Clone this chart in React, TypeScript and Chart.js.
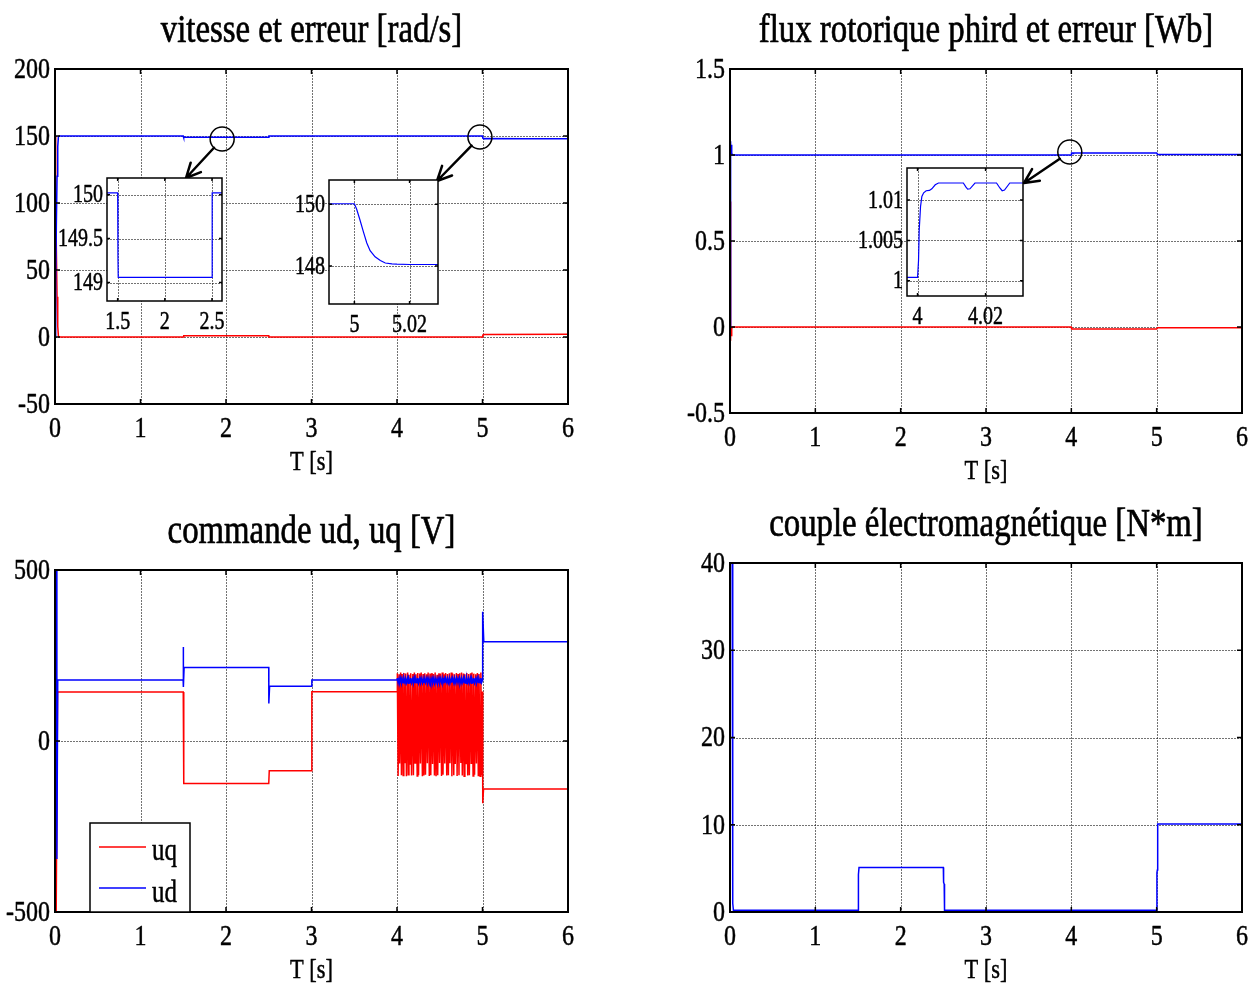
import React, { useEffect, useRef } from 'react';
import { Chart, registerables } from 'chart.js';

Chart.register(...registerables);

// ---------------- data ----------------
const TIME_TICKS = [0, 1, 2, 3, 4, 5, 6];
const TITLES = [
  'vitesse et erreur [rad/s]',
  'flux rotorique phird et erreur [Wb]',
  'commande ud, uq [V]',
  'couple électromagnétique [N*m]',
];
const X_LABEL = 'T [s]';
const LEGEND_LABELS = ['uq', 'ud'];

// panel 1 : speed and speed error
const speedYTicks = [-50, 0, 50, 100, 150, 200];
const speedT = [0, 0.008, 0.016, 0.024, 0.032, 0.04, 0.05, 1.5, 1.503, 1.506, 2.5, 2.502, 5.0, 5.0008, 5.002, 5.0033, 5.0045, 5.0057, 5.0075, 5.0094, 5.0112, 5.0136, 5.0154, 5.02, 5.5, 6];
const speedV = [0, 40, 85, 120, 142, 149.5, 150.02, 150.02, 149.3, 149.06, 149.06, 150.02, 150.02, 149.85, 149.5, 149.1, 148.75, 148.5, 148.3, 148.18, 148.1, 148.07, 148.06, 148.05, 148.04, 148.04];
const speedErrT = [0, 0.008, 0.016, 0.024, 0.032, 0.04, 0.05, 1.5, 1.506, 2.5, 2.502, 5.0, 5.003, 5.006, 5.01, 5.02, 6];
const speedErrV = [150, 110, 65, 30, 8, 0.5, 0, 0, 0.94, 0.94, 0, 0, 0.9, 1.5, 1.85, 1.95, 1.96];
const inset1XTicks = [1.5, 2, 2.5];
const inset1YTicks = [149, 149.5, 150];
const inset2XTicks = [5, 5.02];
const inset2YTicks = [148, 150];

// panel 2 : rotor flux and flux error
const fluxYTicks = [-0.5, 0, 0.5, 1, 1.5];
const fluxT = [0, 0.003, 0.007, 0.011, 0.015, 0.02, 0.03, 3.9969, 4.0, 4.00029, 4.00049, 4.00088, 4.00127, 4.0018, 4.00254, 4.0035, 4.0042, 4.0052, 4.00615, 4.01346, 4.01424, 4.01473, 4.01541, 4.01688, 4.02322, 4.0242, 4.02488, 4.02556, 4.02712, 4.05, 5.0, 5.01, 6];
const fluxV = [0, 0.55, 1.08, 1.02, 1.06, 1.01, 1.0004, 1.0004, 1.0004, 1.0025, 1.0063, 1.0092, 1.01046, 1.0109, 1.01116, 1.0112, 1.0114, 1.0119, 1.01212, 1.01212, 1.0116, 1.01137, 1.0114, 1.01212, 1.01212, 1.0115, 1.01116, 1.01125, 1.01212, 1.01212, 1.01212, 1.003, 1.003];
const fluxErrT = [0, 0.003, 0.007, 0.011, 0.015, 0.02, 0.03, 4.0, 4.003, 5.0, 5.01, 6];
const fluxErrV = [0.73, 0.3, -0.08, -0.02, -0.05, -0.01, 0, 0, -0.012, -0.012, -0.004, -0.004];
const inset3XTicks = [4, 4.02];
const inset3YTicks = [1, 1.005, 1.01];

// panel 3 : voltage commands
const voltYTicks = [-500, 0, 500];
const uqPreT = [0, 0.006, 0.014, 0.022, 0.03, 1.5, 1.506, 2.5, 2.506, 3.0, 3.004, 4.0];
const uqPreV = [500, 420, -500, -500, 143, 143, -124, -124, -87, -87, 144, 144];
const udPreT = [0, 0.012, 0.022, 0.032, 1.499, 1.5, 1.503, 1.51, 2.5, 2.501, 2.51, 3.0, 3.004, 4.0];
const udPreV = [0, 500, -345, 178, 178, 275, 158, 215, 215, 110, 160, 160, 178, 178];
const oscT = [
  4.004, 4.013, 4.024, 4.031, 4.043, 4.052, 4.060, 4.072, 4.080, 4.093,
  4.101, 4.110, 4.124, 4.131, 4.140, 4.153, 4.161, 4.170, 4.185, 4.192,
  4.203, 4.211, 4.222, 4.236, 4.243, 4.252, 4.266, 4.274, 4.283, 4.297,
  4.305, 4.314, 4.325, 4.333, 4.347, 4.355, 4.364, 4.378, 4.386, 4.395,
  4.409, 4.416, 4.425, 4.438, 4.446, 4.457, 4.468, 4.476, 4.490, 4.498,
  4.507, 4.521, 4.529, 4.538, 4.551, 4.559, 4.568, 4.582, 4.590, 4.601,
  4.612, 4.620, 4.634, 4.642, 4.651, 4.664, 4.672, 4.681, 4.695, 4.703,
  4.714, 4.725, 4.733, 4.747, 4.755, 4.764, 4.777, 4.785, 4.794, 4.808,
  4.816, 4.827, 4.838, 4.846, 4.860, 4.868, 4.877, 4.890, 4.898, 4.907,
  4.921, 4.929, 4.940, 4.951, 4.959, 4.973, 4.981, 4.990,
];
const uqOscV = [
  198, -102, 195, -66, 200, -100, 196, -101, 199, -65,
  197, -103, 200, -99, 194, -67, 198, -101, 196, -100,
  200, -64, 195, -102, 199, -100, 197, -66, 200, -103,
  196, -101, 198, -99, 195, -65, 200, -102, 197, -100,
  199, -67, 196, -101, 200, -103, 194, -100, 198, -64,
  197, -102, 200, -99, 195, -66, 199, -101, 196, -100,
  198, -65, 200, -103, 197, -100, 195, -67, 199, -102,
  196, -100, 198, -64, 200, -101, 197, -103, 195, -66,
  199, -101, 196, -100, 198, -65, 200, -102, 197, -99,
  195, -66, 199, -101, 196, -103, 200, -100,
];
const udOscV = [
  184, 170, 183, 171, 184, 169, 182, 170, 184, 171,
  183, 170, 184, 169, 182, 171, 184, 170, 183, 169,
  184, 171, 182, 170, 184, 169, 183, 171, 184, 170,
  182, 169, 184, 171, 183, 170, 184, 169, 182, 171,
  184, 170, 183, 169, 184, 171, 182, 170, 184, 169,
  183, 171, 184, 170, 182, 169, 184, 171, 183, 170,
  184, 169, 182, 171, 184, 170, 183, 169, 184, 171,
  182, 170, 184, 169, 183, 171, 184, 170, 182, 169,
  184, 171, 183, 170, 184, 169, 182, 171, 184, 170,
  183, 169, 184, 171, 182, 170, 184, 171,
];
const uqPostT = [5.0, 5.003, 5.012, 6];
const uqPostV = [145, -182, -140, -140];
const udPostT = [5.0, 5.002, 5.015, 6];
const udPostV = [178, 378, 290, 290];

// panel 4 : electromagnetic torque
const torqueYTicks = [0, 10, 20, 30, 40];
const torqueT = [0, 0.002, 0.026, 0.032, 0.04, 1.5, 1.502, 1.508, 1.512, 2.5, 2.503, 2.51, 2.514, 5.0, 5.003, 5.008, 5.012, 6];
const torqueV = [0, 40, 40, 1, 0.2, 0.2, 4.1, 4.3, 5.1, 5.1, 3.4, 3.2, 0.2, 0.2, 4.5, 4.8, 10.1, 10.1];

// ---------------- styling / layout ----------------
const FONT = '"Liberation Serif", "Times New Roman", Times, serif';
const BLUE = '#0000ff';
const RED = '#ff0000';
const SX = 0.8;

type Area = { l: number; t: number; r: number; b: number };
const INSET1: Area = { l: 107, t: 178, r: 222, b: 301 };
const INSET2: Area = { l: 329, t: 180, r: 438, b: 304 };
const INSET3: Area = { l: 907, t: 168, r: 1023, b: 296 };

const pts = (t: number[], v: number[]) => t.map((x, i) => ({ x, y: v[i] }));

function txt(ctx: CanvasRenderingContext2D, s: string, x: number, y: number, size: number,
  align: CanvasTextAlign, baseline: CanvasTextBaseline = 'alphabetic', sx = SX) {
  ctx.save();
  ctx.font = `${size}px ${FONT}`;
  ctx.fillStyle = '#000';
  ctx.strokeStyle = '#000';
  ctx.lineWidth = size > 35 ? 0.7 : 0.5;
  ctx.lineJoin = 'round';
  ctx.textAlign = align;
  ctx.textBaseline = baseline;
  ctx.translate(x, y);
  ctx.scale(sx, 1);
  ctx.fillText(s, 0, 0);
  ctx.strokeText(s, 0, 0);
  ctx.restore();
}

function arrow(ctx: CanvasRenderingContext2D, cx: number, cy: number, r: number, tx: number, ty: number) {
  const dx = tx - cx, dy = ty - cy;
  const d = Math.hypot(dx, dy);
  const sx = cx + (dx / d) * r, sy = cy + (dy / d) * r;
  ctx.save();
  ctx.strokeStyle = '#000';
  ctx.lineWidth = 1.5;
  ctx.beginPath();
  ctx.arc(cx, cy, r, 0, Math.PI * 2);
  ctx.stroke();
  ctx.lineWidth = 2.5;
  ctx.lineCap = 'round';
  ctx.beginPath();
  ctx.moveTo(sx, sy);
  ctx.lineTo(tx, ty);
  const ang = Math.atan2(ty - sy, tx - sx);
  for (const s of [-0.45, 0.45]) {
    ctx.moveTo(tx, ty);
    ctx.lineTo(tx - 16 * Math.cos(ang + s), ty - 16 * Math.sin(ang + s));
  }
  ctx.stroke();
  ctx.restore();
}

type ZoomMark = { t: number; v: number; r: number; tip: [number, number] };

type Spec = {
  key: string;
  left: number; top: number; width: number; height: number;
  area: Area;
  x: [number, number]; y: [number, number];
  xTicks: number[]; yTicks: number[];
  series: { t: number[]; v: number[]; color: string }[];
  title?: string;
  inset?: boolean;
  marks?: ZoomMark[];
  legend?: boolean;
};

function axesPlugin(spec: Spec) {
  const tickLen = spec.inset ? 3 : 5;
  const tickSize = spec.inset ? 25 : 30;
  return {
    id: 'matlabAxes',
    beforeDatasetsDraw(chart: any) {
      const { ctx, chartArea: a } = chart;
      const xs = chart.scales.x, ys = chart.scales.y;
      ctx.save();
      if (spec.inset) {
        ctx.fillStyle = '#fff';
        ctx.fillRect(a.left, a.top, a.right - a.left, a.bottom - a.top);
      }
      ctx.strokeStyle = 'rgba(0,0,0,0.55)';
      ctx.lineWidth = 1;
      ctx.setLineDash([2, 1]);
      ctx.beginPath();
      for (const t of spec.xTicks) {
        const px = Math.round(xs.getPixelForValue(t)) + 0.5;
        if (px <= a.left + 2 || px >= a.right - 2) continue;
        ctx.moveTo(px, a.top);
        ctx.lineTo(px, a.bottom);
      }
      for (const v of spec.yTicks) {
        const py = Math.round(ys.getPixelForValue(v)) + 0.5;
        if (py <= a.top + 2 || py >= a.bottom - 2) continue;
        ctx.moveTo(a.left, py);
        ctx.lineTo(a.right, py);
      }
      ctx.stroke();
      ctx.restore();
    },
    afterDatasetsDraw(chart: any) {
      const { ctx, chartArea: a } = chart;
      const xs = chart.scales.x, ys = chart.scales.y;
      ctx.save();
      // inward tick marks
      ctx.strokeStyle = '#000';
      ctx.lineWidth = 1.5;
      ctx.beginPath();
      for (const t of spec.xTicks) {
        const px = xs.getPixelForValue(t);
        ctx.moveTo(px, a.bottom); ctx.lineTo(px, a.bottom - tickLen);
        ctx.moveTo(px, a.top); ctx.lineTo(px, a.top + tickLen);
      }
      for (const v of spec.yTicks) {
        const py = ys.getPixelForValue(v);
        ctx.moveTo(a.left, py); ctx.lineTo(a.left + tickLen, py);
        ctx.moveTo(a.right, py); ctx.lineTo(a.right - tickLen, py);
      }
      ctx.stroke();
      // frame
      ctx.lineWidth = spec.inset ? 1.5 : 2;
      ctx.strokeRect(a.left, a.top, a.right - a.left, a.bottom - a.top);
      ctx.restore();

      // tick labels
      for (const t of spec.xTicks) {
        txt(ctx, String(t), xs.getPixelForValue(t), a.bottom + (spec.inset ? 28 : 33), tickSize, 'center');
      }
      for (const v of spec.yTicks) {
        txt(ctx, String(v), a.left - (spec.inset ? 4 : 5), ys.getPixelForValue(v) + 1, tickSize, 'right', 'middle');
      }
      if (!spec.inset) {
        const cx = (a.left + a.right) / 2;
        if (spec.title) txt(ctx, spec.title, cx, a.top - 27, 40, 'center', 'alphabetic', 0.82);
        txt(ctx, X_LABEL, cx, a.bottom + 66, 28, 'center');
      }

      // zoom circles and arrows
      if (spec.marks) {
        for (const m of spec.marks) {
          arrow(ctx, xs.getPixelForValue(m.t), ys.getPixelForValue(m.v), m.r,
            m.tip[0] - spec.left, m.tip[1] - spec.top);
        }
      }

      // legend
      if (spec.legend) {
        const bl = a.left + 35, bt = a.bottom - 89, bw = 100, bh = 89;
        ctx.save();
        ctx.fillStyle = '#fff';
        ctx.fillRect(bl, bt, bw, bh);
        ctx.strokeStyle = '#000';
        ctx.lineWidth = 1.5;
        ctx.strokeRect(bl, bt, bw, bh);
        const rows = [
          { label: LEGEND_LABELS[0], color: RED, y: a.bottom - 65, base: a.bottom - 52 },
          { label: LEGEND_LABELS[1], color: BLUE, y: a.bottom - 24, base: a.bottom - 10 },
        ];
        for (const r of rows) {
          ctx.strokeStyle = r.color;
          ctx.lineWidth = 1.5;
          ctx.beginPath();
          ctx.moveTo(a.left + 44, r.y);
          ctx.lineTo(a.left + 91, r.y);
          ctx.stroke();
          txt(ctx, r.label, a.left + 97, r.base, 32, 'left', 'alphabetic', 0.78);
        }
        ctx.restore();
      }
    },
  };
}

const insetBox = (key: string, area: Area) => ({
  key, area, left: area.l - 62, top: area.t - 10, width: area.r - area.l + 72, height: area.b - area.t + 46,
});

const SPECS: Spec[] = [
  {
    key: 'p1', left: 0, top: 0, width: 628, height: 490,
    area: { l: 55, t: 69, r: 568, b: 404 },
    x: [0, 6], y: [-50, 200], xTicks: TIME_TICKS, yTicks: speedYTicks,
    series: [{ t: speedT, v: speedV, color: BLUE }, { t: speedErrT, v: speedErrV, color: RED }],
    title: TITLES[0],
    marks: [
      { t: 1.955, v: 147.8, r: 12, tip: [INSET1.l + 79, INSET1.t] },
      { t: 4.97, v: 149.3, r: 12, tip: [INSET2.r - 1, INSET2.t + 1] },
    ],
  },
  {
    key: 'p2', left: 628, top: 0, width: 628, height: 490,
    area: { l: 730, t: 69, r: 1242, b: 413 },
    x: [0, 6], y: [-0.5, 1.5], xTicks: TIME_TICKS, yTicks: fluxYTicks,
    series: [{ t: fluxT, v: fluxV, color: BLUE }, { t: fluxErrT, v: fluxErrV, color: RED }],
    title: TITLES[1],
    marks: [{ t: 3.982, v: 1.017, r: 12, tip: [INSET3.r + 1, INSET3.t + 15] }],
  },
  {
    key: 'p3', left: 0, top: 490, width: 628, height: 496,
    area: { l: 55, t: 570, r: 568, b: 912 },
    x: [0, 6], y: [-500, 500], xTicks: TIME_TICKS, yTicks: voltYTicks,
    series: [
      { t: [...udPreT, ...oscT, ...udPostT], v: [...udPreV, ...udOscV, ...udPostV], color: BLUE },
      { t: [...uqPreT, ...oscT, ...uqPostT], v: [...uqPreV, ...uqOscV, ...uqPostV], color: RED },
    ],
    title: TITLES[2],
    legend: true,
  },
  {
    key: 'p4', left: 628, top: 490, width: 628, height: 496,
    area: { l: 730, t: 563, r: 1242, b: 912 },
    x: [0, 6], y: [0, 40], xTicks: TIME_TICKS, yTicks: torqueYTicks,
    series: [{ t: torqueT, v: torqueV, color: BLUE }],
    title: TITLES[3],
  },
  {
    ...insetBox('i1', INSET1),
    x: [1.387, 2.606], y: [148.79, 150.19], xTicks: inset1XTicks, yTicks: inset1YTicks,
    series: [{ t: speedT, v: speedV, color: BLUE }], inset: true,
  },
  {
    ...insetBox('i2', INSET2),
    x: [4.9908, 5.0303], y: [146.77, 150.79], xTicks: inset2XTicks, yTicks: inset2YTicks,
    series: [{ t: speedT, v: speedV, color: BLUE }], inset: true,
  },
  {
    ...insetBox('i3', INSET3),
    x: [3.9969, 4.031], y: [0.9981, 1.01398], xTicks: inset3XTicks, yTicks: inset3YTicks,
    series: [{ t: fluxT, v: fluxV, color: BLUE }], inset: true,
  },
];

function Panel({ spec }: { spec: Spec }) {
  const ref = useRef<HTMLCanvasElement | null>(null);
  useEffect(() => {
    if (!ref.current) return;
    const a = spec.area;
    const chart = new Chart(ref.current, {
      type: 'line',
      data: {
        datasets: spec.series.map((s) => ({
          data: pts(s.t, s.v),
          borderColor: s.color,
          backgroundColor: s.color,
          borderWidth: spec.inset ? 1.2 : 1.5,
          pointRadius: 0,
          fill: false,
          tension: 0,
        })),
      },
      options: {
        animation: false,
        responsive: false,
        maintainAspectRatio: false,
        events: [],
        layout: {
          padding: {
            left: a.l - spec.left,
            top: a.t - spec.top,
            right: spec.left + spec.width - a.r,
            bottom: spec.top + spec.height - a.b,
          },
        },
        plugins: { legend: { display: false }, title: { display: false }, tooltip: { enabled: false } },
        scales: {
          x: { type: 'linear', display: false, min: spec.x[0], max: spec.x[1] },
          y: { type: 'linear', display: false, min: spec.y[0], max: spec.y[1] },
        },
      } as any,
      plugins: [axesPlugin(spec) as any],
    });
    return () => chart.destroy();
  }, [spec]);
  return (
    <canvas
      ref={ref}
      width={spec.width}
      height={spec.height}
      style={{ position: 'absolute', left: spec.left, top: spec.top, width: spec.width, height: spec.height, zIndex: spec.inset ? 2 : 1 }}
    />
  );
}

export default function App() {
  return (
    <div style={{ position: 'absolute', left: 0, top: 0, width: 1256, height: 986, background: '#fff', overflow: 'hidden' }}>
      {SPECS.map((s) => (
        <Panel key={s.key} spec={s} />
      ))}
    </div>
  );
}
